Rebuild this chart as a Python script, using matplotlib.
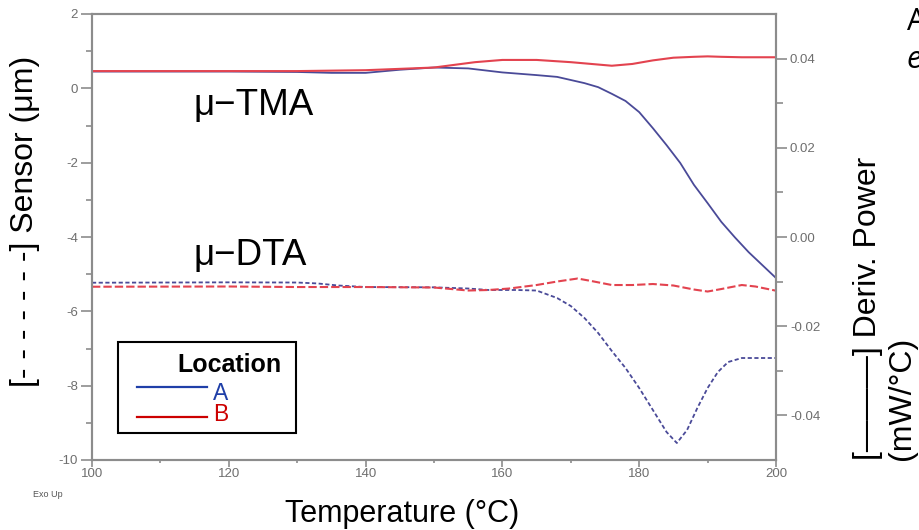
import matplotlib
matplotlib.use("Agg")
import matplotlib.pyplot as plt
from matplotlib.patches import Rectangle
from matplotlib.lines import Line2D

plt.rcParams['font.family'] = ['Liberation Sans', 'DejaVu Sans']
plt.rcParams['axes.unicode_minus'] = False
plt.rcParams['lines.scale_dashes'] = False

# ---- data ----
# solid curves (Deriv. Power, right axis, mW/°C)
temp_solid_a = [100, 110, 120, 130, 135, 140, 145, 150, 155, 160, 165, 168, 170, 172,
                174, 176, 178, 180, 182, 184, 186, 188, 190, 192, 194, 196, 198, 200]
power_a = [0.0371, 0.0371, 0.0371, 0.0370, 0.0368, 0.0368, 0.0375, 0.0380, 0.0378,
           0.0369, 0.0363, 0.0359, 0.0352, 0.0345, 0.0336, 0.0321, 0.0305, 0.0280,
           0.0244, 0.0206, 0.0166, 0.0117, 0.0076, 0.0034, -0.0001, -0.0034,
           -0.0063, -0.0092]
temp_solid_b = [100, 110, 120, 130, 140, 145, 150, 153, 156, 160, 165, 170, 173, 176,
                179, 182, 185, 188, 190, 192, 195, 200]
power_b = [0.0372, 0.0372, 0.0372, 0.0372, 0.0374, 0.0377, 0.0380, 0.0386, 0.0392,
           0.0397, 0.0397, 0.0392, 0.0388, 0.0384, 0.0388, 0.0396, 0.0402, 0.0404,
           0.0405, 0.0404, 0.0403, 0.0403]

# dashed curves (Sensor, left axis, µm)
temp_dash_a = [100, 110, 120, 130, 133, 136, 140, 150, 155, 158, 162, 165, 168, 170,
               172, 174, 176, 178, 180, 182, 184, 185.5, 187, 188.5, 190, 191.5, 193,
               195, 200]
sensor_a = [-5.23, -5.225, -5.22, -5.225, -5.25, -5.305, -5.346, -5.354, -5.386,
            -5.426, -5.426, -5.44, -5.642, -5.857, -6.18, -6.583, -7.068, -7.525,
            -8.063, -8.655, -9.247, -9.543, -9.193, -8.601, -8.063, -7.633, -7.364,
            -7.256, -7.256]
temp_dash_b = [100, 120, 130, 140, 150, 155, 158, 161, 165, 168, 171, 173, 176, 179,
               182, 185, 188, 190, 192, 195, 197, 200]
sensor_b = [-5.338, -5.332, -5.346, -5.346, -5.359, -5.44, -5.426, -5.386, -5.292,
            -5.198, -5.117, -5.184, -5.292, -5.292, -5.265, -5.305, -5.413, -5.467,
            -5.40, -5.292, -5.332, -5.445]

x_major = [100, 120, 140, 160, 180, 200]
x_minor = [110, 130, 150, 170, 190]
left_major = [-10, -8, -6, -4, -2, 0, 2]
left_minor = [-9, -7, -5, -3, -1, 1]
right_major = [-0.04, -0.02, 0.00, 0.02, 0.04]
right_labels = ['-0.04', '-0.02', '0.00', '0.02', '0.04']
right_minor = [-0.03, -0.01, 0.01, 0.03]
legend_labels = ['A', 'B']

# ---- style ----
blue = '#4a4a98'
red = '#e3434f'
legend_colors = ['#1f3fa8', '#cc0000']
spine_col = '#8c8c8c'
tick_txt = '#6e6e6e'

fig = plt.figure(figsize=(9.19, 5.30), dpi=100)
ax = fig.add_axes([92/919, 70/530, 684/919, 446/530])
ax2 = ax.twinx()

ax.plot(temp_dash_a, sensor_a, color=blue, lw=1.3, linestyle=(0, (3, 1.8)))
ax.plot(temp_dash_b, sensor_b, color=red, lw=1.5, linestyle=(0, (6, 2.2)))
ax2.plot(temp_solid_a, power_a, color=blue, lw=1.3)
ax2.plot(temp_solid_b, power_b, color=red, lw=1.5)

ax.set_xlim(100, 200)
ax.set_ylim(-10, 2)
ax2.set_ylim(-0.05, 0.05)

ax.set_xticks(x_major)
ax.set_xticks(x_minor, minor=True)
ax.set_yticks(left_major)
ax.set_yticks(left_minor, minor=True)
ax2.set_yticks(right_major)
ax2.set_yticklabels(right_labels)
ax2.set_yticks(right_minor, minor=True)

for a in (ax, ax2):
    for s in a.spines.values():
        s.set_color(spine_col)
        s.set_linewidth(1.5)
ax.tick_params(axis='y', which='major', direction='out', length=8, width=1.2,
               color=spine_col, labelcolor=tick_txt, labelsize=9.5, pad=2)
ax.tick_params(axis='y', which='minor', direction='out', length=4, width=1.2,
               color=spine_col)
ax.tick_params(axis='x', which='major', direction='out', length=5, width=1.2,
               color=spine_col, labelcolor=tick_txt, labelsize=9.5, pad=1)
ax.tick_params(axis='x', which='minor', direction='out', length=2.5, width=1.2,
               color=spine_col)
ax2.tick_params(axis='y', which='major', direction='out', length=8, width=1.2,
                color=spine_col, labelcolor=tick_txt, labelsize=9.5, pad=2)
ax2.tick_params(axis='y', which='minor', direction='out', length=5, width=1.2,
                color=spine_col)

# annotations
ax.text(114.8, -0.72, 'μ−TMA', fontsize=26.5, va='baseline', ha='left')
ax.text(114.8, -4.75, 'μ−DTA', fontsize=26.5, va='baseline', ha='left')

# legend box (drawn manually)
ax.add_patch(Rectangle((0.038, 0.0605), 0.26, 0.204, transform=ax.transAxes,
                       fill=False, edgecolor='black', lw=1.5, zorder=5))
ax.text(0.2003, 0.213, 'Location', transform=ax.transAxes, fontsize=18,
        fontweight='bold', ha='center', va='center', zorder=6)
for ly, ty, lab, col in zip([0.1637, 0.0964], [0.150, 0.1031], legend_labels, legend_colors):
    ax.add_line(Line2D([0.0658, 0.1681], [ly, ly], transform=ax.transAxes,
                       color=col, lw=1.6, zorder=6))
    ax.text(0.1769, ty, lab, transform=ax.transAxes, fontsize=16.5, color=col,
            ha='left', va='center', zorder=6)

# axis labels
fig.text(402/919, 8/530, 'Temperature (°C)', fontsize=22, ha='center', va='baseline')
fig.text(25/919, (530-221)/530, '[- - - - - - -] Sensor (μm)', fontsize=23,
         rotation=90, ha='center', va='center')
fig.text(885/919, (530-460)/530, '[———] Deriv. Power\n(mW/°C)', fontsize=23,
         rotation=90, ha='center', va='bottom', multialignment='left')
fig.text(33/919, (530-497)/530, 'Exo Up', fontsize=6.5, color='#555555', ha='left',
         va='baseline')
fig.text(907/919, (530-30)/530, 'A', fontsize=22, ha='left', va='baseline',
         family='Open Sans')
fig.text(907/919, (530-68)/530, 'e', fontsize=22, ha='left', va='baseline',
         style='italic', family='Open Sans')

fig.savefig('out.png', dpi=100)
